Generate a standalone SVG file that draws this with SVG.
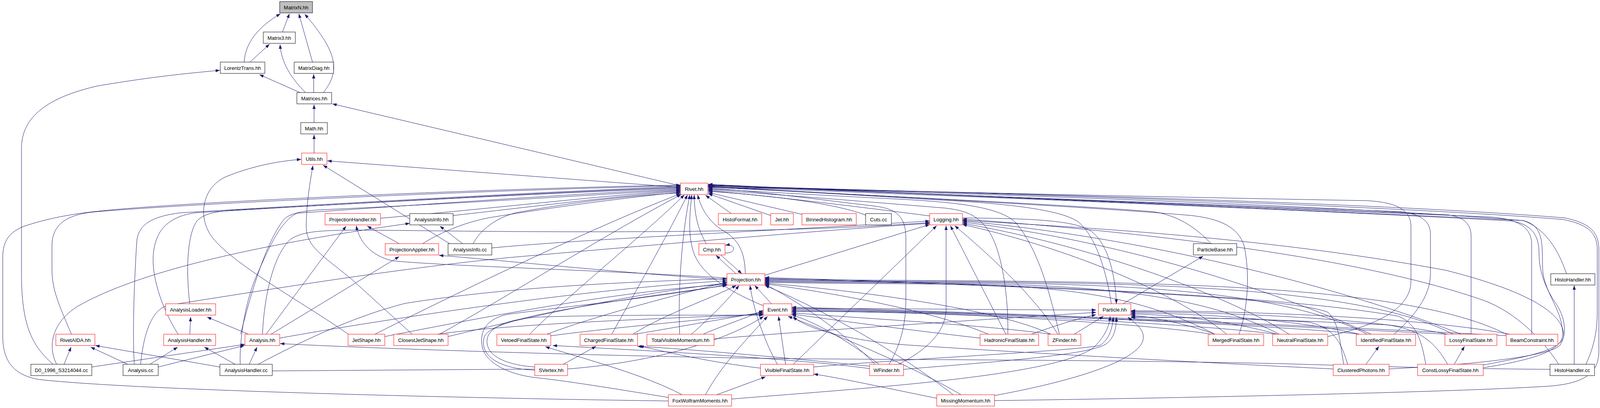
<svg xmlns="http://www.w3.org/2000/svg" width="4419" height="1045" viewBox="0 0 4419 1045">
<style>
.e path{fill:none;stroke:#191970;stroke-width:1;marker-end:url(#a)}
.nd rect{fill:#fff;stroke:#ff0000;stroke-width:1}
.nd.k rect{stroke:#000}
.nd.g rect{fill:#bfbfbf;stroke:#000}
.nd text{font-family:"Liberation Sans",Arial,Helvetica,sans-serif;font-size:13px;fill:#000;text-anchor:middle}
</style>
<defs>
<marker id="a" markerWidth="11" markerHeight="8" refX="11" refY="4" orient="auto" markerUnits="userSpaceOnUse"><path d="M0,0 L11,4 L0,8 z" fill="#191970" stroke="none"/></marker>
</defs>
<rect width="4419" height="1045" fill="#fff"/>
<g id="edges" class="e">
<path d="M723,82 L741,35"/>
<path d="M625,159 C628,110 660,70 718,35"/>
<path d="M800,159 L765,35"/>
<path d="M828,237 C868,185 870,140 780,36"/>
<path d="M640,159 L690,113"/>
<path d="M782,237 C745,200 720,160 717,114"/>
<path d="M768,237 L664,191"/>
<path d="M803,237 L803,190"/>
<path d="M804,314 L804,268"/>
<path d="M1742,476 L851,266"/>
<path d="M804,392 L804,345"/>
<path d="M1742,480 L838,412"/>
<path d="M136,933 C80,885 55,830 55,700 L55,380 C55,300 120,250 250,220 C400,195 480,188 563,180"/>
<path d="M1055,856 L900,715 C820,650 784,630 784,580 C784,520 795,460 801,424"/>
<path d="M893,857 C800,790 600,680 545,610 C505,560 515,480 580,452 C640,428 700,414 771,408"/>
<path d="M1151,624 L827,423"/>
<path d="M1711,1027 C1200,1020 350,1000 100,972 C30,960 7,920 7,860 L7,660 C7,615 25,595 60,580 C120,560 180,548 260,540 C500,515 1300,482 1742,474"/>
<path d="M183,856 C150,780 133,740 133,690 L133,630 C133,575 170,550 240,543 C500,520 1300,485 1742,476"/>
<path d="M344,933 C338,850 345,700 350,620 C353,580 380,555 463,545 C800,525 1400,490 1742,478"/>
<path d="M456,856 C420,800 390,720 392,660 C395,590 430,555 500,545 C800,527 1400,492 1742,480"/>
<path d="M486,778 C476,700 478,600 505,565 C525,545 560,540 620,537 C900,522 1400,494 1742,482"/>
<path d="M615,933 C612,870 630,760 661,697 C690,630 720,565 760,546 C1000,530 1400,500 1742,484"/>
<path d="M616,856 C640,760 680,620 727,562 C745,543 790,538 850,536 C1200,520 1500,500 1742,486"/>
<path d="M974,559 C1300,530 1550,500 1742,488"/>
<path d="M1160,552 C1400,525 1600,500 1742,490"/>
<path d="M1082,624 C1120,600 1180,572 1250,558 C1450,525 1620,505 1742,492"/>
<path d="M1211,624 C1230,590 1265,560 1320,545 C1480,515 1630,500 1742,494"/>
<path d="M960,856 C1150,760 1500,590 1742,496"/>
<path d="M1125,856 C1300,760 1550,600 1744,498"/>
<path d="M1356,856 C1450,760 1650,600 1752,499"/>
<path d="M1566,856 C1620,760 1710,600 1760,499"/>
<path d="M1740,856 C1736,760 1742,620 1766,499"/>
<path d="M1954,783 C1880,752 1800,710 1777,650 C1762,610 1764,560 1771,499"/>
<path d="M1808,624 C1790,592 1778,560 1777,499"/>
<path d="M1908,701 C1907,645 1890,612 1850,590 C1815,568 1795,535 1786,499"/>
<path d="M1872,547 L1806,500"/>
<path d="M1973,552 L1813,496"/>
<path d="M2053,549 L1813,493"/>
<path d="M2216,551 C2150,525 2000,502 1813,490"/>
<path d="M2380,553 C2200,530 2000,505 1813,488"/>
<path d="M2580,856 C2582,760 2565,640 2530,590 C2505,555 2480,540 2420,533 C2200,515 1950,495 1813,486"/>
<path d="M2712,856 C2690,760 2660,640 2600,570 C2560,530 2450,518 2300,510 C2100,500 1900,488 1813,484"/>
<path d="M2276,933 C2305,885 2319,830 2319,770 L2319,610 C2319,560 2300,535 2240,528 C2100,512 1950,490 1813,482"/>
<path d="M2845,778 C2830,680 2800,600 2760,568 C2720,540 2600,522 2400,512 C2200,500 1950,485 1813,480"/>
<path d="M3100,624 C3060,580 3010,550 2950,542 C2700,522 2200,500 1813,478"/>
<path d="M3172,856 C3195,790 3200,700 3185,630 C3170,580 3120,560 3050,552 C2800,530 2200,500 1813,477"/>
<path d="M3399,862 C3500,838 3612,800 3612,720 L3612,580 C3612,535 3570,518 3500,514 C3000,505 2300,490 1813,476"/>
<path d="M3569,856 C3620,810 3662,760 3662,700 L3662,600 C3662,565 3635,548 3585,542 C3000,520 2300,495 1813,475"/>
<path d="M3766,856 L3766,605 C3766,572 3745,553 3700,550 C3200,530 2400,498 1813,474"/>
<path d="M3921,856 L3921,625 C3921,585 3890,562 3820,556 C3200,530 2400,498 1813,473"/>
<path d="M3556,945 C3750,935 3960,915 3993,885 C4010,860 4010,820 3985,780 C3960,745 3940,700 3940,650 C3940,600 3920,575 3870,566 C3300,535 2400,500 1813,478"/>
<path d="M3797,942 C3900,925 3995,905 4000,860 C4003,800 3960,760 3950,700 C3945,640 3960,580 3900,565 C3300,535 2400,500 1813,472"/>
<path d="M4010,701 C3990,640 3955,585 3900,565 C3500,532 2800,505 1813,476"/>
<path d="M4060,933 C4075,900 4089,860 4089,800 L4089,640 C4089,600 4070,575 4000,562 C3600,530 2800,502 1813,475"/>
<path d="M2546,1026 C3000,1020 3700,1005 3950,990 C4050,985 4093,960 4093,900 L4093,640 C4093,598 4075,572 4005,558 C3600,525 2800,498 1813,479"/>
<path d="M1958,705 L2380,575"/>
<path d="M2031,933 L2398,578"/>
<path d="M2300,933 C2380,893 2422,845 2422,790 L2422,578"/>
<path d="M2575,856 L2433,578"/>
<path d="M2708,856 C2650,760 2530,650 2444,578"/>
<path d="M672,856 C676,760 700,650 745,612 C780,590 830,588 1000,590 C1500,596 2000,598 2380,570"/>
<path d="M1259,635 C1500,612 2000,590 2380,566"/>
<path d="M360,933 C368,850 390,792 430,782 C700,740 1000,690 1300,660 C1700,625 2100,590 2380,572"/>
<path d="M3140,856 C3050,780 2800,650 2464,575"/>
<path d="M3300,856 C3150,760 2800,630 2464,572"/>
<path d="M3510,856 C3300,760 2900,620 2464,569"/>
<path d="M3740,856 C3500,760 3000,615 2464,566"/>
<path d="M3797,935 C3900,915 4000,898 4003,860 C4005,800 3900,742 3700,692 C3200,600 2700,580 2464,564"/>
<path d="M3990,933 C3950,870 3880,800 3800,770 C3500,665 3000,600 2464,561"/>
<path d="M2464,558 C2600,560 2740,560 2790,590 C2835,620 2855,700 2858,778"/>
<path d="M1845,653 L1899,701"/>
<path d="M1884,701 L1833,654"/>
<path d="M1856,648 C1884,650 1886,624 1857,628"/>
<path d="M1861,716 C1600,700 1300,668 1124,654"/>
<path d="M1861,712 C1500,690 1150,682 1005,668 C950,655 920,620 912,578"/>
<path d="M1975,778 L1932,731"/>
<path d="M985,862 C1300,800 1600,745 1861,728"/>
<path d="M1147,862 C1400,800 1650,748 1861,725"/>
<path d="M1400,856 C1550,800 1750,752 1861,722"/>
<path d="M1620,856 C1700,805 1820,765 1885,731"/>
<path d="M1770,856 C1820,812 1862,770 1892,731"/>
<path d="M716,866 C1000,815 1500,740 1861,719"/>
<path d="M1369,948 C1280,945 1225,912 1240,862 C1260,815 1500,780 1861,731"/>
<path d="M661,933 C760,880 900,812 1037,777 C1300,735 1600,722 1861,714"/>
<path d="M1711,1018 C1600,1000 1450,975 1369,967 C1300,958 1245,930 1235,890 C1225,845 1250,815 1300,805 C1450,785 1700,760 1861,729"/>
<path d="M1990,933 C1960,880 1930,800 1920,731"/>
<path d="M2240,933 C2170,860 2050,775 1958,728"/>
<path d="M2440,1011 C2300,900 2100,790 1958,731"/>
<path d="M2530,856 C2400,800 2150,752 1958,727"/>
<path d="M2690,856 C2550,790 2200,745 1958,725"/>
<path d="M3110,856 C2810,700 2500,735 1958,723"/>
<path d="M3275,856 C2975,700 2500,732 1958,721"/>
<path d="M3500,856 C3200,700 2550,730 1958,719"/>
<path d="M3720,856 C3420,700 2600,728 1958,717"/>
<path d="M3860,858 C3560,700 2650,725 1958,715"/>
<path d="M3440,933 C3430,880 3430,830 3400,800 C3300,760 2700,735 1958,713"/>
<path d="M3650,933 C3640,880 3630,830 3580,810 C3300,760 2700,732 1958,711"/>
<path d="M1120,856 C1300,830 1700,815 1954,805"/>
<path d="M1410,860 C1600,835 1850,815 1954,802"/>
<path d="M1625,856 C1750,835 1880,812 1954,799"/>
<path d="M1800,856 C1860,830 1910,815 1954,795"/>
<path d="M1369,940 C1300,935 1252,915 1247,880 C1242,842 1290,818 1380,812 C1600,805 1850,808 1954,807"/>
<path d="M697,950 C1000,948 1250,946 1453,945 C1650,930 1850,880 1955,810"/>
<path d="M1806,1011 C1850,930 1920,860 1965,810"/>
<path d="M2011,933 L1993,810"/>
<path d="M2460,1011 C2360,950 2150,860 2017,810"/>
<path d="M2250,933 C2180,880 2100,830 2027,806"/>
<path d="M2509,866 C2300,842 2100,815 2027,804"/>
<path d="M2690,856 C2500,830 2150,812 2027,801"/>
<path d="M3100,856 C2950,830 2400,795 2027,798"/>
<path d="M3265,856 C3100,832 2450,797 2027,796"/>
<path d="M3480,856 C3300,834 2500,798 2027,793"/>
<path d="M3705,856 C3500,845 2550,799 2027,790"/>
<path d="M3860,860 C3600,845 2600,800 2027,787"/>
<path d="M3413,945 C3000,925 2500,896 2300,882 C2150,868 2060,838 2030,811"/>
<path d="M2027,790 C2300,790 2600,794 2806,794"/>
<path d="M1828,868 C2100,845 2500,820 2806,800"/>
<path d="M2640,856 C2700,835 2760,815 2806,806"/>
<path d="M2750,856 L2825,810"/>
<path d="M1873,1022 C2200,995 2700,965 2800,890 C2830,860 2840,835 2842,810"/>
<path d="M2546,1013 C2700,985 2900,935 2925,875 C2935,845 2905,828 2887,812"/>
<path d="M2313,946 C2500,930 2780,912 2830,882 C2853,866 2858,840 2858,812"/>
<path d="M2083,940 C2300,920 2740,900 2815,885 C2840,870 2848,840 2850,812"/>
<path d="M3110,856 C3040,830 2950,812 2895,807"/>
<path d="M3270,856 C3150,822 3000,806 2895,804"/>
<path d="M3480,856 C3300,815 3050,803 2895,801"/>
<path d="M3705,856 C3500,812 3100,800 2895,798"/>
<path d="M3865,856 C3600,806 3100,796 2895,796"/>
<path d="M3450,933 C3435,885 3420,840 3350,825 C3150,812 3000,815 2895,811"/>
<path d="M3706,933 C3680,890 3650,845 3550,832 C3200,815 3000,812 2895,813"/>
<path d="M2875,778 L3080,656"/>
<path d="M3497,933 L3530,887"/>
<path d="M3723,933 L3749,887"/>
<path d="M4030,933 L4030,731"/>
<path d="M3968,946 C3700,944 3500,938 3300,932 C2800,920 2200,922 1900,917 C1400,908 900,890 717,880"/>
<path d="M164,933 L182,889"/>
<path d="M235,940 L627,882"/>
<path d="M145,933 C118,880 140,820 200,784 C320,715 560,640 1049,572"/>
<path d="M327,933 L232,889"/>
<path d="M384,933 L455,889"/>
<path d="M405,940 L626,885"/>
<path d="M563,940 L244,885"/>
<path d="M602,933 L523,889"/>
<path d="M638,933 L658,889"/>
<path d="M486,856 L488,812"/>
<path d="M636,856 L530,812"/>
<path d="M681,856 L886,579"/>
<path d="M694,856 L1022,657"/>
<path d="M1022,624 L940,579"/>
<path d="M1184,624 L1126,579"/>
<path d="M1442,933 L1526,887"/>
<path d="M1746,1011 C1650,960 1500,920 1396,888"/>
<path d="M1835,1011 L1960,965"/>
<path d="M2398,1020 C2250,990 2150,968 2083,958"/>
<path d="M2226,938 C2000,915 1750,893 1632,887"/>
<path d="M2226,944 C2050,920 1700,900 1415,885"/>
<path d="M1947,943 C1800,925 1700,900 1637,886"/>
</g>
<g id="n_MatrixN" class="nd g"><rect x="716" y="4" width="84" height="29"/><text x="758" y="23.5">MatrixN.hh</text></g>
<g id="n_Matrix3" class="nd k"><rect x="674" y="82" width="82" height="29"/><text x="715" y="101.5">Matrix3.hh</text></g>
<g id="n_LorentzTrans" class="nd k"><rect x="564" y="159" width="114" height="29"/><text x="621" y="178.5">LorentzTrans.hh</text></g>
<g id="n_MatrixDiag" class="nd k"><rect x="753" y="159" width="101" height="29"/><text x="803.5" y="178.5">MatrixDiag.hh</text></g>
<g id="n_Matrices" class="nd k"><rect x="760" y="237" width="89" height="29"/><text x="804.5" y="256.5">Matrices.hh</text></g>
<g id="n_Math" class="nd k"><rect x="770" y="314" width="68" height="29"/><text x="804" y="333.5">Math.hh</text></g>
<g id="n_Utils" class="nd"><rect x="772" y="392" width="65" height="29"/><text x="804.5" y="411.5">Utils.hh</text></g>
<g id="n_Rivet" class="nd"><rect x="1742" y="469" width="70" height="29"/><text x="1777" y="488.5">Rivet.hh</text></g>
<g id="n_ProjectionHandler" class="nd"><rect x="832" y="547" width="142" height="29"/><text x="903" y="566.5">ProjectionHandler.hh</text></g>
<g id="n_AnalysisInfoH" class="nd k"><rect x="1049" y="547" width="111" height="29"/><text x="1104.5" y="566.5">AnalysisInfo.hh</text></g>
<g id="n_HistoFormat" class="nd"><rect x="1839" y="547" width="111" height="29"/><text x="1894.5" y="566.5">HistoFormat.hh</text></g>
<g id="n_Jet" class="nd"><rect x="1973" y="547" width="58" height="29"/><text x="2002" y="566.5">Jet.hh</text></g>
<g id="n_BinnedHistogram" class="nd"><rect x="2053" y="547" width="139" height="29"/><text x="2122.5" y="566.5">BinnedHistogram.hh</text></g>
<g id="n_Cuts" class="nd k"><rect x="2216" y="547" width="66" height="29"/><text x="2249" y="566.5">Cuts.cc</text></g>
<g id="n_Logging" class="nd"><rect x="2380" y="547" width="84" height="29"/><text x="2422" y="566.5">Logging.hh</text></g>
<g id="n_ProjectionApplier" class="nd"><rect x="986" y="624" width="137" height="29"/><text x="1054.5" y="643.5">ProjectionApplier.hh</text></g>
<g id="n_AnalysisInfoCC" class="nd k"><rect x="1147" y="624" width="112" height="29"/><text x="1203" y="643.5">AnalysisInfo.cc</text></g>
<g id="n_Cmp" class="nd"><rect x="1789" y="624" width="67" height="29"/><text x="1822.5" y="643.5">Cmp.hh</text></g>
<g id="n_ParticleBase" class="nd k"><rect x="3055" y="624" width="111" height="29"/><text x="3110.5" y="643.5">ParticleBase.hh</text></g>
<g id="n_Projection" class="nd"><rect x="1861" y="701" width="97" height="29"/><text x="1909.5" y="720.5">Projection.hh</text></g>
<g id="n_HistoHandlerH" class="nd k"><rect x="3970" y="701" width="113" height="29"/><text x="4026.5" y="720.5">HistoHandler.hh</text></g>
<g id="n_AnalysisLoader" class="nd"><rect x="424" y="778" width="128" height="29"/><text x="488" y="797.5">AnalysisLoader.hh</text></g>
<g id="n_Event" class="nd"><rect x="1954" y="778" width="73" height="29"/><text x="1990.5" y="797.5">Event.hh</text></g>
<g id="n_Particle" class="nd"><rect x="2812" y="778" width="83" height="29"/><text x="2853.5" y="797.5">Particle.hh</text></g>
<g id="n_RivetAIDA" class="nd"><rect x="143" y="856" width="100" height="29"/><text x="193" y="875.5">RivetAIDA.hh</text></g>
<g id="n_AnalysisHandlerH" class="nd"><rect x="419" y="856" width="133" height="29"/><text x="485.5" y="875.5">AnalysisHandler.hh</text></g>
<g id="n_AnalysisH" class="nd"><rect x="627" y="856" width="89" height="29"/><text x="671.5" y="875.5">Analysis.hh</text></g>
<g id="n_JetShape" class="nd"><rect x="891" y="856" width="94" height="29"/><text x="938" y="875.5">JetShape.hh</text></g>
<g id="n_ClosestJetShape" class="nd"><rect x="1008" y="856" width="139" height="29"/><text x="1077.5" y="875.5">ClosestJetShape.hh</text></g>
<g id="n_VetoedFinalState" class="nd"><rect x="1272" y="856" width="138" height="29"/><text x="1341" y="875.5">VetoedFinalState.hh</text></g>
<g id="n_ChargedFinalState" class="nd"><rect x="1485" y="856" width="147" height="29"/><text x="1558.5" y="875.5">ChargedFinalState.hh</text></g>
<g id="n_TotalVisibleMomentum" class="nd"><rect x="1656" y="856" width="172" height="29"/><text x="1742" y="875.5">TotalVisibleMomentum.hh</text></g>
<g id="n_HadronicFinalState" class="nd"><rect x="2509" y="856" width="150" height="29"/><text x="2584" y="875.5">HadronicFinalState.hh</text></g>
<g id="n_ZFinder" class="nd"><rect x="2683" y="856" width="84" height="29"/><text x="2725" y="875.5">ZFinder.hh</text></g>
<g id="n_MergedFinalState" class="nd"><rect x="3093" y="856" width="142" height="29"/><text x="3164" y="875.5">MergedFinalState.hh</text></g>
<g id="n_NeutralFinalState" class="nd"><rect x="3258" y="856" width="141" height="29"/><text x="3328.5" y="875.5">NeutralFinalState.hh</text></g>
<g id="n_IdentifiedFinalState" class="nd"><rect x="3472" y="856" width="152" height="29"/><text x="3548" y="875.5">IdentifiedFinalState.hh</text></g>
<g id="n_LossyFinalState" class="nd"><rect x="3699" y="856" width="133" height="29"/><text x="3765.5" y="875.5">LossyFinalState.hh</text></g>
<g id="n_BeamConstraint" class="nd"><rect x="3856" y="856" width="132" height="29"/><text x="3922" y="875.5">BeamConstraint.hh</text></g>
<g id="n_D0" class="nd k"><rect x="79" y="933" width="156" height="29"/><text x="157" y="952.5">D0_1996_S3214044.cc</text></g>
<g id="n_AnalysisCC" class="nd k"><rect x="315" y="933" width="90" height="29"/><text x="360" y="952.5">Analysis.cc</text></g>
<g id="n_AnalysisHandlerCC" class="nd k"><rect x="563" y="933" width="134" height="29"/><text x="630" y="952.5">AnalysisHandler.cc</text></g>
<g id="n_SVertex" class="nd"><rect x="1369" y="933" width="84" height="29"/><text x="1411" y="952.5">SVertex.hh</text></g>
<g id="n_VisibleFinalState" class="nd"><rect x="1947" y="933" width="136" height="29"/><text x="2015" y="952.5">VisibleFinalState.hh</text></g>
<g id="n_WFinder" class="nd"><rect x="2226" y="933" width="87" height="29"/><text x="2269.5" y="952.5">WFinder.hh</text></g>
<g id="n_ClusteredPhotons" class="nd"><rect x="3413" y="933" width="143" height="29"/><text x="3484.5" y="952.5">ClusteredPhotons.hh</text></g>
<g id="n_ConstLossyFinalState" class="nd"><rect x="3629" y="933" width="168" height="29"/><text x="3713" y="952.5">ConstLossyFinalState.hh</text></g>
<g id="n_HistoHandlerCC" class="nd k"><rect x="3968" y="933" width="114" height="29"/><text x="4025" y="952.5">HistoHandler.cc</text></g>
<g id="n_FoxWolframMoments" class="nd"><rect x="1711" y="1011" width="162" height="29"/><text x="1792" y="1030.5">FoxWolframMoments.hh</text></g>
<g id="n_MissingMomentum" class="nd"><rect x="2398" y="1011" width="148" height="29"/><text x="2472" y="1030.5">MissingMomentum.hh</text></g>
</svg>
